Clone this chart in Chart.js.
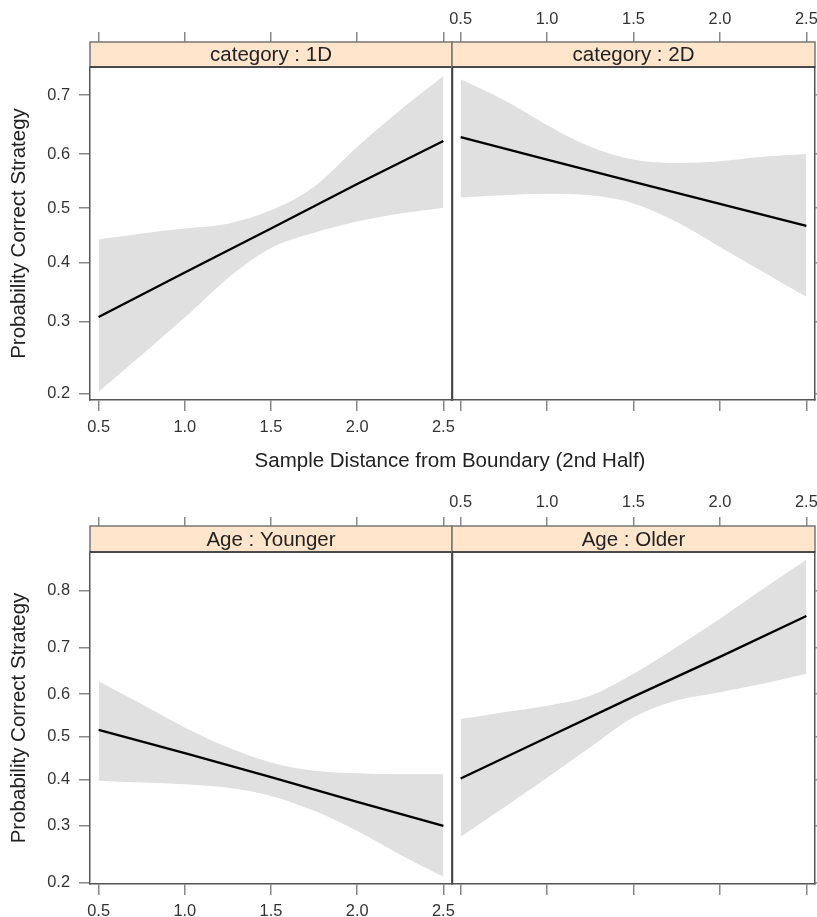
<!DOCTYPE html>
<html>
<head>
<meta charset="utf-8">
<title>Probability Correct Strategy</title>
<script src="https://cdn.jsdelivr.net/npm/chart.js"></script>
<style>
  body { margin: 0; background: #fff; }
  #wrap { position: relative; width: 817px; height: 917px; overflow: hidden; }
  #wrap canvas { position: absolute; left: 0; top: 0; }
  #xlab {
    position: absolute; left: 0; width: 900px; top: 448px;
    text-align: center; line-height: 24px; color: #222;
    font: 20.5px "Liberation Sans", Arial, Helvetica, sans-serif;
  }
</style>
</head>
<body>
<div id="wrap">
  <canvas id="p1D" width="817" height="917"></canvas>
  <canvas id="p2D" width="817" height="917"></canvas>
  <canvas id="pYounger" width="817" height="917"></canvas>
  <canvas id="pOlder" width="817" height="917"></canvas>
  <div id="xlab">Sample Distance from Boundary (2nd Half)</div>
</div>
<script>
// sample distance grid used for the confidence bands
const distance = [0.5, 0.75, 1.0, 1.25, 1.5, 1.75, 2.0, 2.25, 2.5];
const xTicks = [0.5, 1.0, 1.5, 2.0, 2.5];
const yTicksCategory = [0.2, 0.3, 0.4, 0.5, 0.6, 0.7];
const yTicksAge = [0.2, 0.3, 0.4, 0.5, 0.6, 0.7, 0.8];
const stripLabels = ["category : 1D", "category : 2D", "Age : Younger", "Age : Older"];

// fitted probability at xTicks
const fit1D = [0.307, 0.382, 0.462, 0.545, 0.623];
const fit2D = [0.630, 0.590, 0.549, 0.508, 0.467];
const fitYounger = [0.516, 0.461, 0.405, 0.350, 0.300];
const fitOlder = [0.402, 0.498, 0.594, 0.681, 0.759];

// 95% band at distance
const upper1D = [0.442, 0.453, 0.462, 0.471, 0.496, 0.540, 0.613, 0.676, 0.729];
const lower1D = [0.202, 0.250, 0.306, 0.372, 0.426, 0.454, 0.475, 0.490, 0.501];
const upper2D = [0.724, 0.692, 0.651, 0.613, 0.590, 0.584, 0.587, 0.595, 0.600];
const lower2D = [0.520, 0.524, 0.527, 0.524, 0.509, 0.474, 0.428, 0.383, 0.340];
const upperYounger = [0.629, 0.577, 0.522, 0.475, 0.439, 0.420, 0.414, 0.412, 0.412];
const lowerYounger = [0.397, 0.393, 0.389, 0.381, 0.363, 0.331, 0.290, 0.246, 0.209];
const upperOlder = [0.542, 0.558, 0.573, 0.596, 0.645, 0.701, 0.754, 0.803, 0.843];
const lowerOlder = [0.279, 0.338, 0.404, 0.475, 0.546, 0.585, 0.604, 0.623, 0.645];

const FONT = '"Liberation Sans", Arial, Helvetica, sans-serif';
Chart.defaults.font.family = FONT;
Chart.defaults.color = "#333";
Chart.defaults.animation = false;

const logit = (p) => Math.log(p / (1 - p));
const expit = (z) => 1 / (1 + Math.exp(-z));

// y axis on the logit (link) scale, labelled in probabilities
class LogitScale extends Chart.Scale {
  static id = "logit";
  static defaults = {};
  determineDataLimits() {
    this.min = this.options.min;
    this.max = this.options.max;
  }
  buildTicks() {
    return (this.options.tickValues || []).map((v) => ({ value: v }));
  }
  configure() {
    super.configure();
    this._zMin = logit(this.min);
    this._zMax = logit(this.max);
  }
  getPixelForValue(v) {
    return this.getPixelForDecimal((logit(v) - this._zMin) / (this._zMax - this._zMin));
  }
  getValueForPixel(px) {
    return expit(this._zMin + this.getDecimalForPixel(px) * (this._zMax - this._zMin));
  }
  getLabelForValue(v) {
    return v.toFixed(2);
  }
}
Chart.register(LogitScale);

// peach strip above each panel; drawn last so it hides the top tick marks below it
const stripPlugin = {
  id: "strip",
  afterDraw(chart, args, opts) {
    const { ctx, chartArea: a } = chart;
    const h = opts.height;
    ctx.save();
    ctx.fillStyle = "#ffe5cc";
    ctx.fillRect(a.left, a.top - h, a.right - a.left, h);
    ctx.lineWidth = 1.5;
    ctx.strokeStyle = "#777";
    ctx.strokeRect(a.left, a.top - h, a.right - a.left, h);
    ctx.strokeStyle = "#333";
    ctx.beginPath();
    ctx.moveTo(a.left, a.top);
    ctx.lineTo(a.right, a.top);
    ctx.stroke();
    ctx.fillStyle = "#222";
    ctx.font = "20.5px " + FONT;
    ctx.textAlign = "center";
    ctx.textBaseline = "middle";
    ctx.fillText(opts.text, (a.left + a.right) / 2, a.top - h / 2 + 1);
    ctx.restore();
  },
};

const cols = [
  { padL: 0, padR: 365, yW: 90, y2W: 0, left: true },
  { padL: 452, padR: 0, yW: 0, y2W: 2, left: false },
];
const rows = [
  { padT: 0, padB: 477, x2H: 67, xH: 40, strip: 25, yMin: 0.1922, yMax: 0.7421, ticks: yTicksCategory, topPad: 3 },
  { padT: 480, padB: 0, x2H: 72, xH: 33, strip: 26, yMin: 0.198, yMax: 0.8525, ticks: yTicksAge, topPad: 5 },
];

const border = { color: "#555", width: 1.5 };
const tickFont = { size: 16.4 };
const fmt = (v) => Number(v).toFixed(1);

function xAxis(position, height, tickLength, showLabels, pad) {
  return {
    type: "linear",
    position,
    min: 0.45,
    max: 2.55,
    afterBuildTicks: (s) => {
      s.ticks = xTicks.map((v) => ({ value: v }));
    },
    afterFit: (s) => {
      s.height = height;
      s.paddingLeft = 0;
      s.paddingRight = 0;
    },
    ticks: { display: showLabels, font: tickFont, padding: pad, callback: fmt, autoSkip: false, maxRotation: 0 },
    grid: { drawOnChartArea: false, tickLength, color: "#888", lineWidth: 1.5 },
    border,
  };
}

function yAxis(position, row, width, tickLength, showLabels, withTitle) {
  return {
    type: "logit",
    position,
    min: row.yMin,
    max: row.yMax,
    tickValues: row.ticks,
    afterFit: (s) => {
      s.width = width;
      s.paddingTop = 0;
      s.paddingBottom = 0;
    },
    ticks: { display: showLabels, font: tickFont, padding: 9, callback: fmt, autoSkip: false },
    grid: { drawOnChartArea: false, drawTicks: tickLength > 0, tickLength, color: "#888", lineWidth: 1.5 },
    border: position === "right" && width === 0 ? { color: "#333", width: 2.2 } : border,
    title: {
      display: withTitle,
      text: "Probability Correct Strategy",
      font: { size: 20.5 },
      color: "#222",
      padding: { top: 7, bottom: 0 },
    },
  };
}

function drawPanel(id, col, row, label, fit, upper, lower) {
  const ctx = document.getElementById(id).getContext("2d");
  return new Chart(ctx, {
    type: "line",
    data: {
      datasets: [
        {
          data: xTicks.map((x, i) => ({ x, y: fit[i] })),
          borderColor: "#000",
          borderWidth: 2.3,
          pointRadius: 0,
          fill: false,
        },
        {
          data: distance.map((x, i) => ({ x, y: upper[i] })),
          borderColor: "rgba(0,0,0,0)",
          backgroundColor: "#e0e0e0",
          pointRadius: 0,
          cubicInterpolationMode: "monotone",
          fill: "+1",
        },
        {
          data: distance.map((x, i) => ({ x, y: lower[i] })),
          borderColor: "rgba(0,0,0,0)",
          pointRadius: 0,
          cubicInterpolationMode: "monotone",
          fill: false,
        },
      ],
    },
    options: {
      responsive: false,
      devicePixelRatio: 1,
      layout: { padding: { left: col.padL, right: col.padR, top: row.padT, bottom: row.padB } },
      scales: {
        x: xAxis("bottom", row.xH, 11, col.left, 7),
        x2: xAxis("top", row.x2H, 35, !col.left, row.topPad),
        y: yAxis("left", row, col.yW, col.left ? 11 : 0, col.left, col.left),
        y2: yAxis("right", row, col.y2W, col.left ? 0 : 3, false, false),
      },
      plugins: {
        legend: { display: false },
        tooltip: { enabled: false },
        strip: { text: label, height: row.strip },
      },
    },
    plugins: [stripPlugin],
  });
}

drawPanel("p1D", cols[0], rows[0], stripLabels[0], fit1D, upper1D, lower1D);
drawPanel("p2D", cols[1], rows[0], stripLabels[1], fit2D, upper2D, lower2D);
drawPanel("pYounger", cols[0], rows[1], stripLabels[2], fitYounger, upperYounger, lowerYounger);
drawPanel("pOlder", cols[1], rows[1], stripLabels[3], fitOlder, upperOlder, lowerOlder);
</script>
</body>
</html>
